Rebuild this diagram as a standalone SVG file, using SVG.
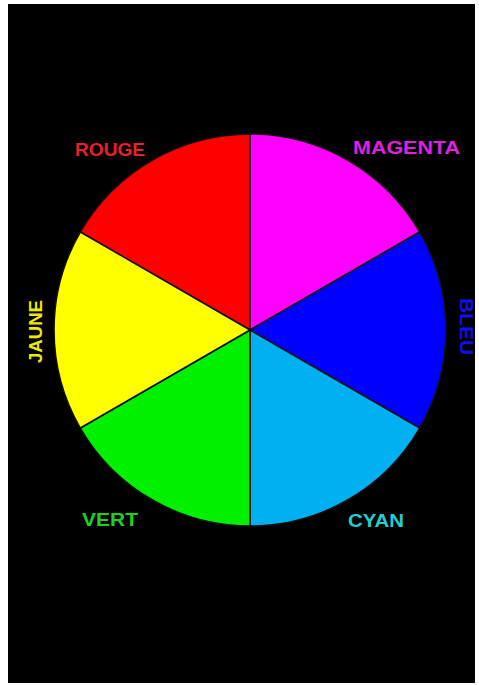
<svg xmlns="http://www.w3.org/2000/svg" width="479" height="685" viewBox="0 0 479 685">
<style>
.w{stroke:#111;stroke-width:1.5;stroke-linejoin:round}
.t{font-family:"Liberation Sans",Arial,sans-serif;font-size:18px;font-weight:bold}
</style>
<rect x="0" y="0" width="479" height="685" fill="#fff"/>
<rect x="8" y="4" width="467" height="679" fill="#000"/>
<g id="wheel">
<g id="rouge"><path class="w" d="M250,330 L250,134 A196,196 0 0 0 80.3,232 Z" fill="#FF0000"/></g>
<g id="magenta"><path class="w" d="M250,330 L419.7,232 A196,196 0 0 0 250,134 Z" fill="#FF00FF"/></g>
<g id="bleu"><path class="w" d="M250,330 L419.7,428 A196,196 0 0 0 419.7,232 Z" fill="#0000FF"/></g>
<g id="cyan"><path class="w" d="M250,330 L250,526 A196,196 0 0 0 419.7,428 Z" fill="#00B0F0"/></g>
<g id="vert"><path class="w" d="M250,330 L80.3,428 A196,196 0 0 0 250,526 Z" fill="#00F000"/></g>
<g id="jaune"><path class="w" d="M250,330 L80.3,232 A196,196 0 0 0 80.3,428 Z" fill="#FFFF00"/></g>
</g>
<g id="labels">
<text class="t" x="75" y="156" fill="#E8202A" textLength="70" lengthAdjust="spacingAndGlyphs">ROUGE</text>
<text class="t" x="353" y="154" fill="#E020E0" textLength="107" lengthAdjust="spacingAndGlyphs">MAGENTA</text>
<text class="t" transform="translate(42,363) rotate(-90)" fill="#F0E800" textLength="63" lengthAdjust="spacingAndGlyphs">JAUNE</text>
<text class="t" transform="translate(460,298) rotate(90)" fill="#1010F0" textLength="57" lengthAdjust="spacingAndGlyphs">BLEU</text>
<text class="t" x="82" y="526" fill="#20D020" textLength="56" lengthAdjust="spacingAndGlyphs">VERT</text>
<text class="t" x="348" y="527" fill="#20D0D0" textLength="56" lengthAdjust="spacingAndGlyphs">CYAN</text>
</g>
</svg>
